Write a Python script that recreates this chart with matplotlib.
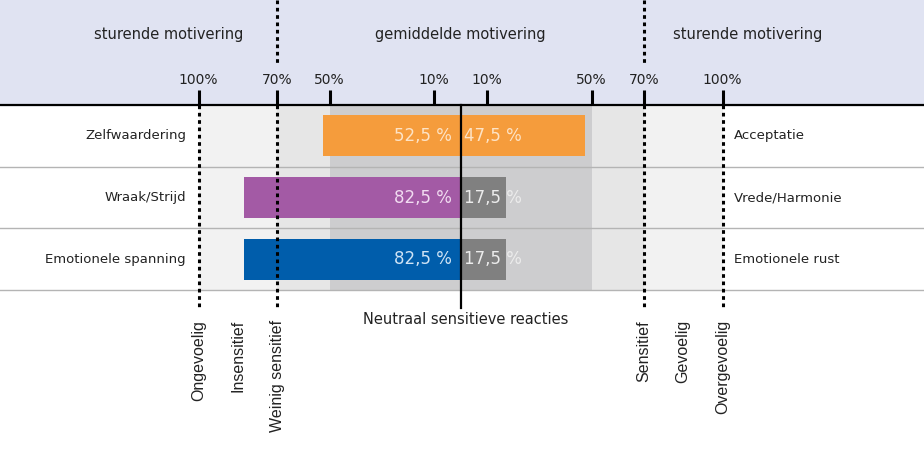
import matplotlib.pyplot as plt

# data
left_labels = ['Zelfwaardering', 'Wraak/Strijd', 'Emotionele spanning']
right_labels = ['Acceptatie', 'Vrede/Harmonie', 'Emotionele rust']
left_vals = [52.5, 82.5, 82.5]
right_vals = [47.5, 17.5, 17.5]
left_colors = ['#f59c3c', '#a35aa5', '#005dab']
right_colors = ['#f59c3c', '#808080', '#808080']
left_txt = ['#fde3c6', '#f1dcf1', '#cfe3f5']
right_txt = ['#fde3c6', '#ececec', '#ececec']
tick_vals = [-100, -70, -50, -10, 10, 50, 70, 100]
tick_labels = ['100%', '70%', '50%', '10%', '10%', '50%', '70%', '100%']
zones = [(100, '#f2f2f2'), (70, '#e6e6e6'), (50, '#cdcdcf')]
bottom_pos = [-100, -85, -70, 70, 85, 100]
bottom_labels = ['Ongevoelig', 'Insensitief', 'Weinig sensitief',
                 'Sensitief', 'Gevoelig', 'Overgevoelig']
header_pos = [-111.3, 0, 109.7]
header_labels = ['sturende motivering', 'gemiddelde motivering', 'sturende motivering']

W, H = 924, 451
ppp = 2.62      # pixels per percent
cx = 460.5      # centre pixel
rh = 61.67      # row height in pixels
y_top = -0.5 - 105 / rh
y_bot = 2.5 + (H - 290) / rh

fig = plt.figure(figsize=(W / 100, H / 100), dpi=100)
ax = fig.add_axes([0, 0, 1, 1])
ax.set_xlim(-cx / ppp, (W - cx) / ppp)
ax.set_ylim(y_bot, y_top)
ax.axis('off')

# header band
ax.axhspan(y_top, -0.5, color='#e0e3f2', zorder=0)

# background zones
for v, c in zones:
    ax.fill_between([-v, v], -0.5, 2.5, color=c, zorder=1, lw=0)

# row separators
for y in [0.5, 1.5, 2.5]:
    ax.axhline(y, color='#b4b4b4', lw=1, zorder=2)

# bars
rows = range(len(left_labels))
ax.barh(rows, [-v for v in left_vals], height=0.665, color=left_colors, zorder=3)
ax.barh(rows, right_vals, height=0.665, color=right_colors, zorder=3)

for i in rows:
    ax.text(-3.2, i, f'{left_vals[i]:.1f} %'.replace('.', ','), ha='right', va='center',
            fontsize=12, color=left_txt[i], zorder=4)
    ax.text(1.3, i, f'{right_vals[i]:.1f} %'.replace('.', ','), ha='left', va='center',
            fontsize=12, color=right_txt[i], zorder=4)
    ax.text(-104.8, i, left_labels[i], ha='right', va='center', fontsize=9.5, color='#222222')
    ax.text(104.2, i, right_labels[i], ha='left', va='center', fontsize=9.5, color='#222222')

# header line
ax.axhline(-0.5, color='black', lw=1.6, zorder=5)

# ticks and tick labels
tick_top = -0.5 - 15 / rh
for v, lab in zip(tick_vals, tick_labels):
    ax.plot([v, v], [tick_top, -0.5], color='black', lw=2.2, zorder=5, solid_capstyle='butt')
    ax.text(v, -0.5 - 25 / rh, lab, ha='center', va='center', fontsize=10, color='#222222')

# dotted guides
dot_end = 2.5 + 18 / rh
for v in [-100, -70, 70, 100]:
    ax.plot([v, v], [-0.5, dot_end], color='black', lw=2.2, ls=(0, (1.2, 1.2)), zorder=5)
for v in [-70, 70]:
    ax.plot([v, v], [y_top, y_top + 65 / rh], color='black', lw=2.2, ls=(0, (1.2, 1.2)), zorder=5)

# centre line
ax.plot([0, 0], [-0.5, dot_end], color='black', lw=1.6, zorder=6)

# header text
for x, lab in zip(header_pos, header_labels):
    ax.text(x, y_top + 35 / rh, lab, ha='center', va='center', fontsize=10.5, color='#222222')

ax.text(2.1, 2.5 + 29 / rh, 'Neutraal sensitieve reacties', ha='center', va='center',
        fontsize=10.5, color='#222222')

for x, lab in zip(bottom_pos, bottom_labels):
    ax.text(x, 2.5 + 30 / rh, lab, ha='center', va='top', rotation=90,
            fontsize=11.5, family='Liberation Sans', color='#222222')

fig.savefig('out.png', dpi=100)
